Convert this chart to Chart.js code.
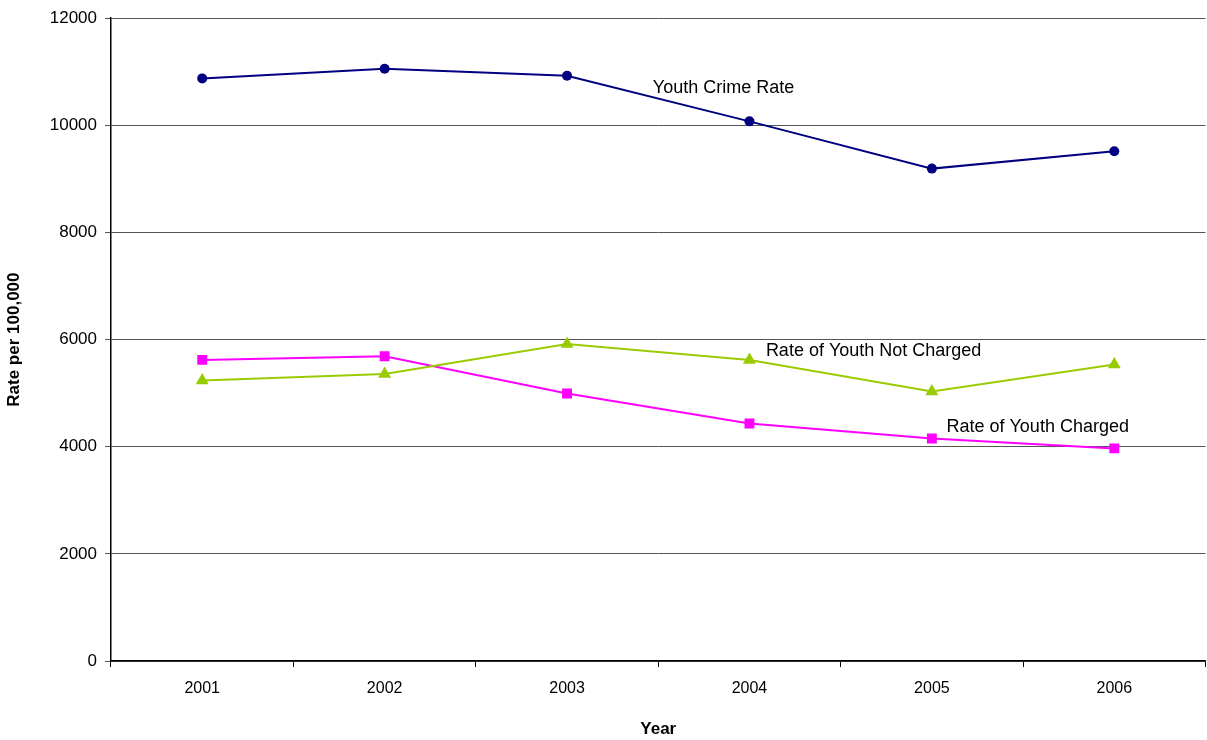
<!DOCTYPE html>
<html>
<head>
<meta charset="utf-8">
<script src="https://cdn.jsdelivr.net/npm/chart.js@4"></script>
<style>
  html, body { margin: 0; padding: 0; background: #fff; overflow: hidden; }
  #wrap { width: 1207px; height: 740px; }
</style>
</head>
<body>
<div id="wrap"><canvas id="rateChart"></canvas></div>
<script>
const years = ['2001', '2002', '2003', '2004', '2005', '2006'];
const crimeRate = [10876, 11055, 10924, 10074, 9192, 9516];
const notCharged = [5236, 5360, 5919, 5621, 5031, 5534];
const charged = [5621, 5689, 4993, 4434, 4155, 3969];
const yTicks = [0, 2000, 4000, 6000, 8000, 10000, 12000];

// series labels written inside the plot, anchored in data units
const seriesLabels = [
    { text: 'Youth Crime Rate', x: 2.47, y: 10695 },
    { text: 'Rate of Youth Not Charged', x: 3.09, y: 5795 },
    { text: 'Rate of Youth Charged', x: 4.08, y: 4360 }
];

const FONT = 'Arial, "Liberation Sans", sans-serif';
const OVERHANG = 6; // plot area runs a little past the right edge of the picture

const labelPlugin = {
    id: 'seriesLabels',
    afterLayout(chart) {
        const xs = chart.scales.x;
        xs.right += OVERHANG;
        xs.width += OVERHANG;
        xs.configure();
        chart.chartArea.right += OVERHANG;
        chart.chartArea.width += OVERHANG;
    },
    afterDatasetsDraw(chart) {
        const ctx = chart.ctx;
        const xs = chart.scales.x, ys = chart.scales.y;
        ctx.save();
        ctx.font = '18px ' + FONT;
        ctx.fillStyle = '#000';
        ctx.textAlign = 'left';
        ctx.textBaseline = 'middle';
        seriesLabels.forEach(l => {
            ctx.fillText(l.text, xs.getPixelForValue(l.x), ys.getPixelForValue(l.y));
        });
        ctx.restore();
    }
};

new Chart(document.getElementById('rateChart'), {
    type: 'line',
    data: {
        labels: years,
        datasets: [
            {
                label: 'Youth Crime Rate',
                data: crimeRate,
                borderColor: '#000080',
                backgroundColor: '#000080',
                borderWidth: 2,
                pointStyle: 'circle',
                pointRadius: 5,
                pointBorderWidth: 0
            },
            {
                label: 'Rate of Youth Not Charged',
                data: notCharged,
                borderColor: '#99CC00',
                backgroundColor: '#99CC00',
                borderWidth: 2,
                pointStyle: 'triangle',
                pointRadius: 7.5,
                pointBorderWidth: 0
            },
            {
                label: 'Rate of Youth Charged',
                data: charged,
                borderColor: '#FF00FF',
                backgroundColor: '#FF00FF',
                borderWidth: 2,
                pointStyle: 'rect',
                pointRadius: 7,
                pointBorderWidth: 0
            }
        ]
    },
    options: {
        responsive: true,
        maintainAspectRatio: false,
        animation: false,
        layout: { padding: { top: 17, right: 0, left: 0, bottom: 0 } },
        plugins: {
            legend: { display: false },
            tooltip: { enabled: false }
        },
        scales: {
            x: {
                offset: true,
                grid: {
                    offset: true,
                    drawOnChartArea: false,
                    drawTicks: true,
                    tickLength: 6,
                    color: '#000'
                },
                border: { color: '#000', width: 1.5 },
                ticks: { color: '#000', font: { family: FONT, size: 16 }, padding: 12, maxRotation: 0 },
                title: {
                    display: true, text: 'Year', color: '#000',
                    font: { family: FONT, size: 17, weight: 'bold' },
                    padding: { top: 0, bottom: 0 }
                },
                afterFit(scale) { scale.height = 79; }
            },
            y: {
                min: 0,
                max: 12000,
                afterBuildTicks(scale) { scale.ticks = yTicks.map(v => ({ value: v })); },
                grid: { color: '#555', tickLength: 6, drawTicks: true },
                border: { color: '#000', width: 1.5 },
                ticks: {
                    color: '#000', font: { family: FONT, size: 17 }, padding: 8,
                    callback: v => String(v)
                },
                title: {
                    display: true, text: 'Rate per 100,000', color: '#000',
                    font: { family: FONT, size: 17, weight: 'bold' },
                    padding: { top: 4, bottom: 0 }
                },
                afterFit(scale) { scale.width = 111; }
            }
        }
    },
    plugins: [labelPlugin]
});
</script>
</body>
</html>
